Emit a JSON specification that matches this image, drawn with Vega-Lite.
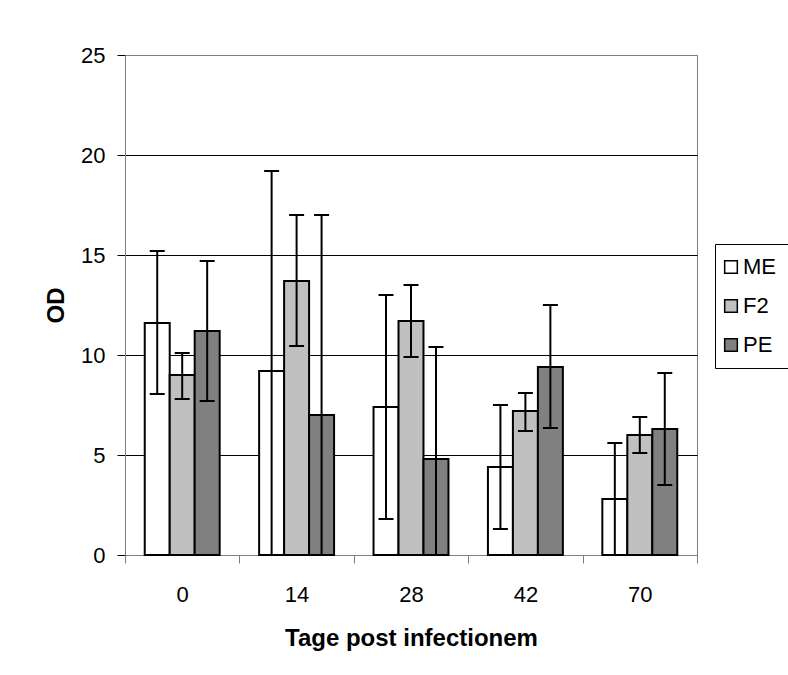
{
  "$schema": "https://vega.github.io/schema/vega-lite/v6.json",
  "width": 572,
  "height": 500,
  "autosize": {"type": "none"},
  "padding": {"left": 125, "top": 55, "right": 91, "bottom": 120},
  "background": "white",
  "config": {
    "font": "Liberation Sans",
    "view": {"stroke": "#808080", "strokeWidth": 1},
    "axis": {
      "labelFont": "Liberation Sans",
      "titleFont": "Liberation Sans",
      "labelColor": "black",
      "titleColor": "black",
      "labelFontSize": 22,
      "titleFontSize": 24,
      "titleFontWeight": "bold"
    },
    "legend": {
      "orient": "none",
      "legendX": 590,
      "legendY": 189,
      "strokeColor": "black",
      "fillColor": "white",
      "padding": 12,
      "rowPadding": 17,
      "symbolType": "square",
      "symbolSize": 160,
      "symbolStrokeColor": "black",
      "symbolStrokeWidth": 1.5,
      "symbolOffset": -7,
      "labelFont": "Liberation Sans",
      "labelFontSize": 22,
      "labelColor": "black",
      "labelOffset": 1,
      "cornerRadius": 0
    }
  },
  "data": {
    "values": [
      {"day": "0", "group": "ME", "od": 11.6, "lo": 8.05, "hi": 15.2},
      {"day": "0", "group": "F2", "od": 9.0, "lo": 7.8, "hi": 10.1},
      {"day": "0", "group": "PE", "od": 11.2, "lo": 7.7, "hi": 14.7},
      {"day": "14", "group": "ME", "od": 9.2, "lo": -0.8, "hi": 19.2},
      {"day": "14", "group": "F2", "od": 13.7, "lo": 10.45, "hi": 17.0},
      {"day": "14", "group": "PE", "od": 7.0, "lo": -3.0, "hi": 17.0},
      {"day": "28", "group": "ME", "od": 7.4, "lo": 1.8, "hi": 13.0},
      {"day": "28", "group": "F2", "od": 11.7, "lo": 9.9, "hi": 13.5},
      {"day": "28", "group": "PE", "od": 4.8, "lo": -0.8, "hi": 10.4},
      {"day": "42", "group": "ME", "od": 4.4, "lo": 1.3, "hi": 7.5},
      {"day": "42", "group": "F2", "od": 7.2, "lo": 6.2, "hi": 8.1},
      {"day": "42", "group": "PE", "od": 9.4, "lo": 6.35, "hi": 12.5},
      {"day": "70", "group": "ME", "od": 2.8, "lo": -0.1, "hi": 5.6},
      {"day": "70", "group": "F2", "od": 6.0, "lo": 5.1, "hi": 6.9},
      {"day": "70", "group": "PE", "od": 6.3, "lo": 3.5, "hi": 9.1}
    ]
  },
  "encoding": {
    "x": {
      "field": "day",
      "type": "nominal",
      "sort": ["0", "14", "28", "42", "70"],
      "scale": {"paddingInner": 0, "paddingOuter": 0},
      "axis": {
        "title": "Tage post infectionem",
        "labelAngle": 0,
        "tickBand": "extent",
        "tickSize": 8,
        "tickColor": "#808080",
        "domainColor": "#808080",
        "labelBaseline": "alphabetic",
        "labelPadding": 38,
        "titleBaseline": "alphabetic",
        "titleY": 90
      }
    },
    "xOffset": {
      "field": "group",
      "type": "nominal",
      "sort": ["ME", "F2", "PE"],
      "scale": {"paddingInner": 0, "paddingOuter": 0.79}
    }
  },
  "layer": [
    {
      "mark": {"type": "bar", "stroke": "black", "strokeWidth": 2},
      "encoding": {
        "y": {
          "field": "od",
          "type": "quantitative",
          "scale": {"domain": [0, 25], "nice": false},
          "axis": {
            "title": "OD",
            "values": [0, 5, 10, 15, 20, 25],
            "grid": true,
            "gridColor": {"condition": {"test": "datum.value === 25", "value": "#808080"}, "value": "black"},
            "gridWidth": 1,
            "tickSize": 8,
            "tickColor": "black",
            "domainColor": "#808080",
            "labelPadding": 12,
            "titleAngle": 270,
            "titleX": -62,
            "titleY": 250,
            "titleBaseline": "alphabetic",
            "titleAlign": "center"
          }
        },
        "fill": {
          "field": "group",
          "type": "nominal",
          "sort": ["ME", "F2", "PE"],
          "scale": {"domain": ["ME", "F2", "PE"], "range": ["#FFFFFF", "#C0C0C0", "#808080"]},
          "legend": {"title": null}
        }
      }
    },
    {
      "mark": {"type": "rule", "color": "black", "strokeWidth": 2, "clip": true},
      "encoding": {
        "y": {"field": "lo", "type": "quantitative"},
        "y2": {"field": "hi"}
      }
    },
    {
      "mark": {"type": "tick", "color": "black", "thickness": 2, "size": 15, "clip": true, "opacity": 1},
      "encoding": {
        "y": {"field": "hi", "type": "quantitative"}
      }
    },
    {
      "mark": {"type": "tick", "color": "black", "thickness": 2, "size": 15, "clip": true, "opacity": 1},
      "encoding": {
        "y": {"field": "lo", "type": "quantitative"}
      }
    }
  ]
}
